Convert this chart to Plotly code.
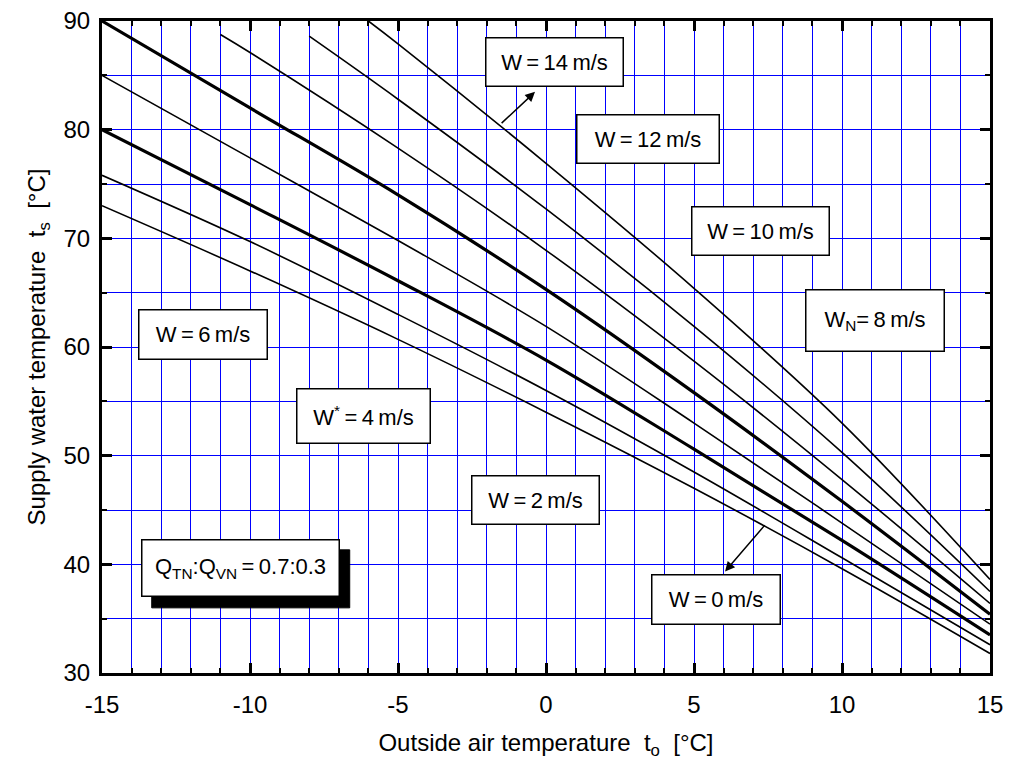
import plotly.graph_objects as go

# ---- data ----
x_full = [-15, -10, -5, 0, 5, 10, 15]
w0 = [73.0, 67.0, 60.7, 54.0, 47.0, 39.6, 31.8]
w2 = [75.8, 69.7, 63.0, 56.0, 48.5, 40.6, 32.6]
w4 = [80.0, 73.1, 66.1, 58.8, 50.6, 42.2, 33.5]
w6 = [85.0, 77.4, 69.8, 61.9, 53.0, 43.8, 34.5]
w8 = [90.0, 82.0, 74.0, 65.3, 55.8, 45.8, 35.4]
x_w10 = [-11, -10, -5, 0, 5, 10, 15]
w10 = [88.76, 87.1, 78.3, 68.9, 58.7, 47.8, 36.4]
x_w12 = [-8, -5, 0, 5, 10, 15]
w12 = [88.6, 82.8, 72.7, 61.9, 50.3, 37.5]
x_w14 = [-6, -5, 0, 5, 10, 15]
w14 = [90.0, 87.9, 76.9, 65.4, 53.0, 38.6]

x_ticks = [-15, -10, -5, 0, 5, 10, 15]
y_ticks = [30, 40, 50, 60, 70, 80, 90]

FONT = "Liberation Sans, Arial, sans-serif"
TS = "\u2009"  # thin space

fig = go.Figure()

series = [
    (x_full, w0, 1.6), (x_full, w2, 1.6), (x_full, w4, 3.2), (x_full, w6, 1.6),
    (x_full, w8, 3.2), (x_w10, w10, 1.6), (x_w12, w12, 1.6), (x_w14, w14, 1.6),
]
for xs, ys, lw in series:
    fig.add_trace(go.Scatter(x=xs, y=ys, mode="lines",
                             line=dict(color="black", width=lw, shape="spline", smoothing=1.0),
                             showlegend=False, hoverinfo="skip"))

def lab(w):
    return f"W{TS}={TS}{w}{TS}m/s"

labels = [
    (lab(14), 0.30, 86.2, 130, 41),
    (lab(12), 3.45, 79.1, 135, 41),
    (lab(10), 7.23, 70.7, 130, 41),
    (f"W<sub>N</sub>={TS}8{TS}m/s", 11.10, 62.45, 131, 54),
    (lab(6), -11.58, 61.18, 121, 42),
    (f"W<sup>*</sup>{TS}={TS}4{TS}m/s", -6.15, 53.67, 126, 47),
    (lab(2), -0.34, 45.9, 120, 41),
    (lab(0), 5.73, 36.78, 121, 42),
]
annotations = []
for txt, ax_, ay_, w, h in labels:
    annotations.append(dict(x=ax_, y=ay_, xref="x", yref="y", text=txt, showarrow=False,
                            font=dict(family=FONT, size=22, color="black"),
                            bgcolor="white", bordercolor="black", borderwidth=1.5,
                            borderpad=3, width=w, height=h))

q_x, q_y = -10.33, 39.63
qtext = f"Q<sub>TN</sub>:Q<sub>VN</sub>{TS}={TS}0.7:0.3"
annotations.append(dict(x=q_x, y=q_y, xref="x", yref="y", text=qtext, showarrow=False,
                        font=dict(family=FONT, size=22, color="black"),
                        bgcolor="white", bordercolor="black", borderwidth=1.5,
                        borderpad=3, width=190, height=49))

# arrows
annotations.append(dict(x=-0.37, y=83.48, ax=-1.55, ay=80.47, xref="x", yref="y",
                        axref="x", ayref="y", text="", showarrow=True, arrowhead=2,
                        arrowsize=1.3, arrowwidth=1.5, arrowcolor="black"))
annotations.append(dict(x=6.05, y=39.34, ax=7.43, ay=43.73, xref="x", yref="y",
                        axref="x", ayref="y", text="", showarrow=True, arrowhead=2,
                        arrowsize=1.3, arrowwidth=1.5, arrowcolor="black"))

# drop shadow of the Q box (pixel-sized rectangle anchored at the box centre)
shapes = [dict(type="rect", xref="x", yref="y", xsizemode="pixel", ysizemode="pixel",
               xanchor=q_x, yanchor=q_y, x0=-99 + 10.5, x1=99 + 10.5, y0=-29 - 10.5, y1=29 - 10.5,
               fillcolor="black", line=dict(color="black", width=1), layer="above")]

axis_common = dict(
    showline=True, linecolor="black", linewidth=3, mirror="allticks",
    ticks="inside", ticklen=10, tickwidth=3, tickcolor="black",
    showgrid=True, gridcolor="#0000ff", gridwidth=1, zeroline=False,
    tickfont=dict(family=FONT, size=24, color="black"),
)

fig.update_xaxes(range=[-15, 15], tickvals=x_ticks, ticktext=[str(v) for v in x_ticks],
                 ticklabelstandoff=8,
                 minor=dict(dtick=1, tick0=-15, ticks="inside", ticklen=5, tickwidth=2,
                            tickcolor="black", showgrid=True, gridcolor="#0000ff", gridwidth=1),
                 title=dict(text="Outside air temperature  t<sub>o</sub>  [°C]",
                            font=dict(family=FONT, size=24, color="black"), standoff=18),
                 **axis_common)
fig.update_yaxes(range=[30, 90], tickvals=y_ticks, ticktext=[str(v) for v in y_ticks],
                 ticklabelstandoff=4,
                 minor=dict(dtick=5, tick0=30, ticks="inside", ticklen=5, tickwidth=2,
                            tickcolor="black", showgrid=True, gridcolor="#0000ff", gridwidth=1),
                 title=dict(text="Supply water temperature  t<sub>s</sub>  [°C]",
                            font=dict(family=FONT, size=24, color="black"), standoff=12),
                 **axis_common)

fig.update_layout(width=1009, height=764, margin=dict(l=102, r=19, t=21, b=91, autoexpand=False),
                  paper_bgcolor="white", plot_bgcolor="white", annotations=annotations,
                  shapes=shapes, font=dict(family=FONT, color="black"))

fig.write_html("out.html")
